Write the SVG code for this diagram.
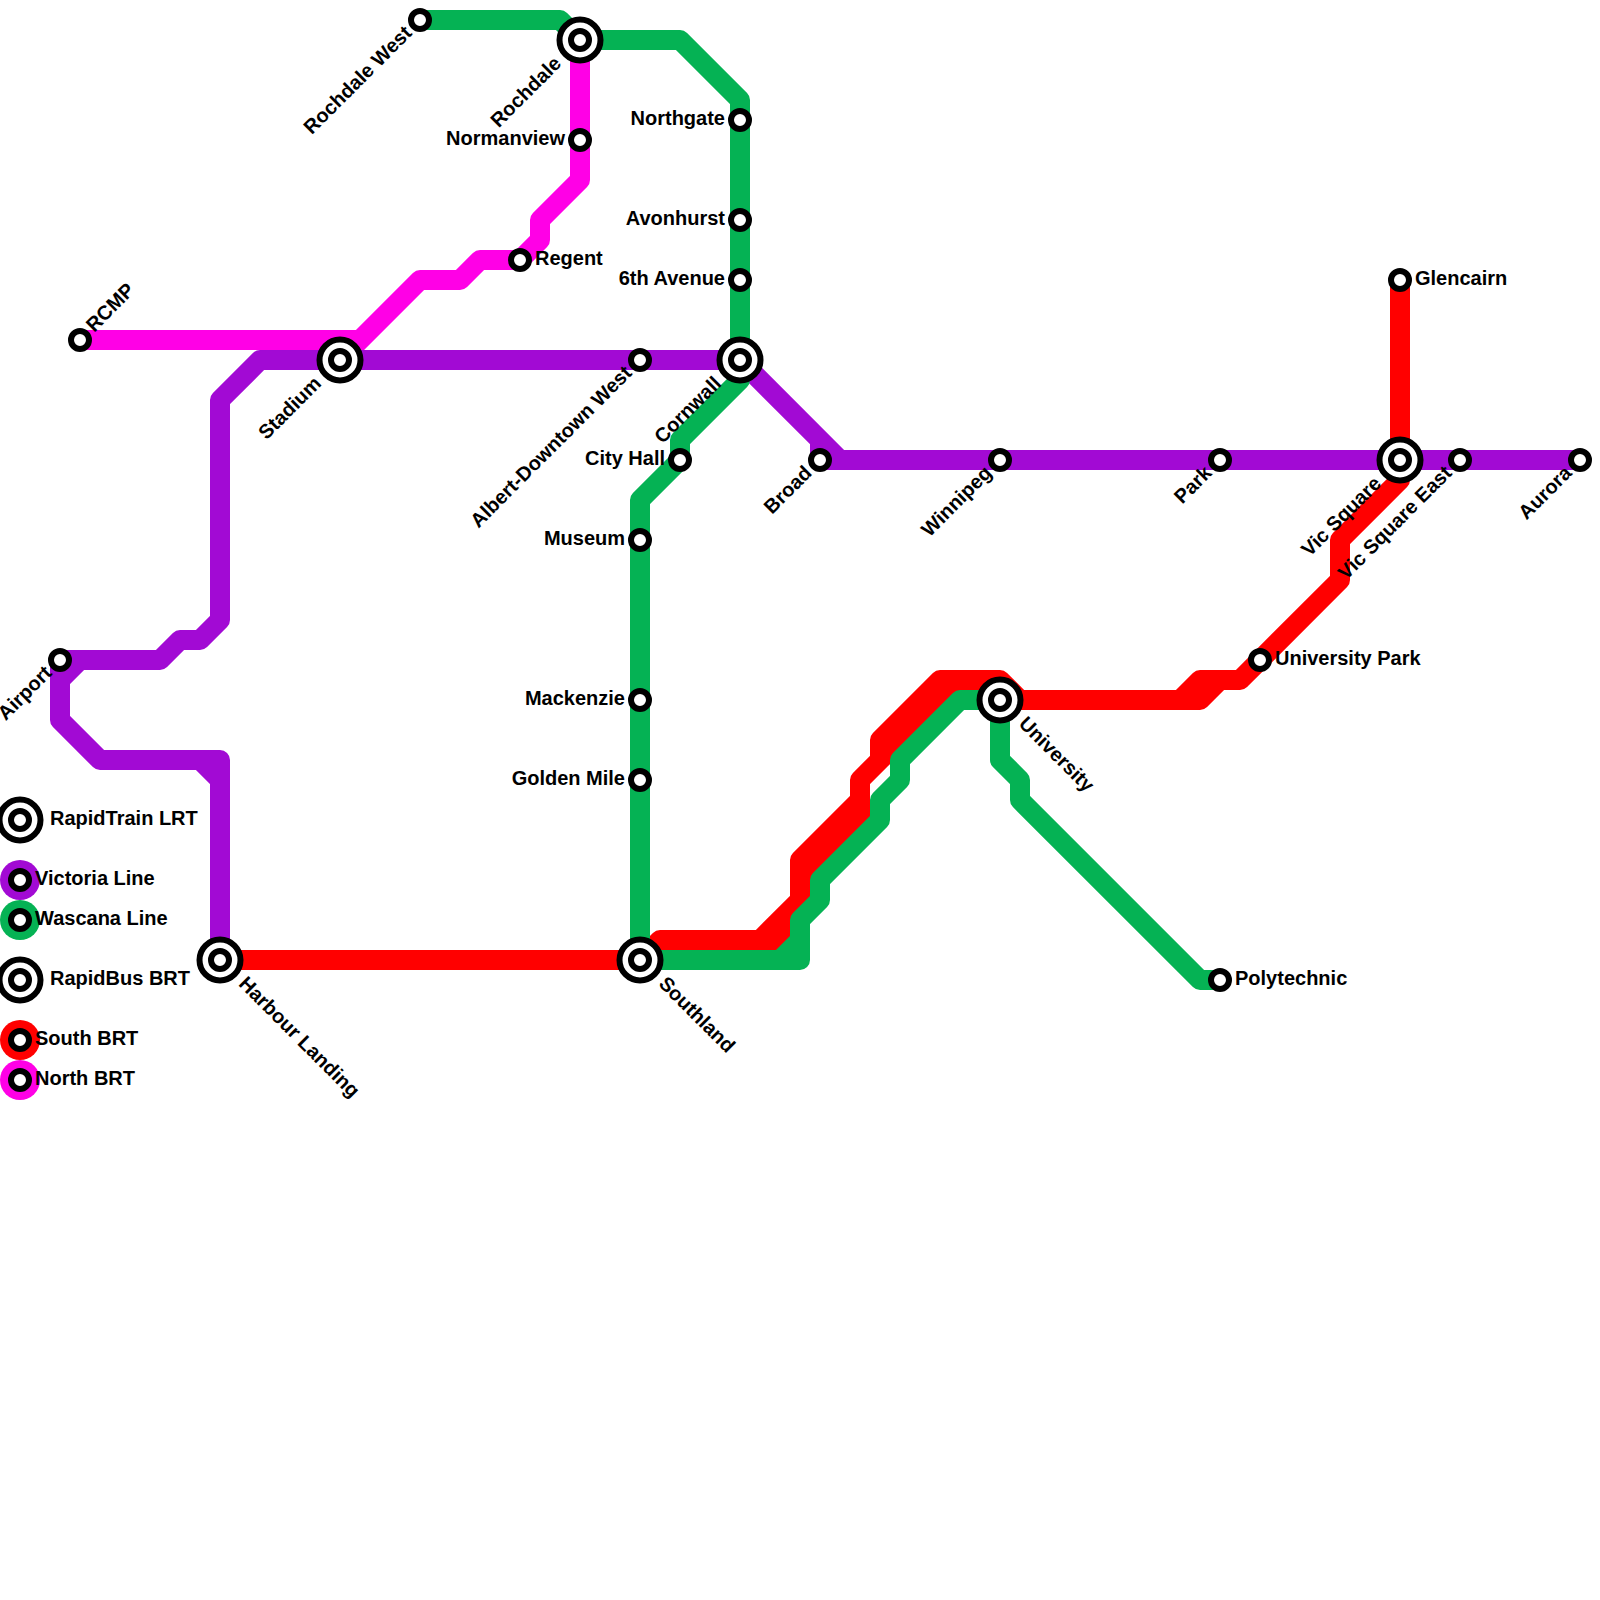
<svg xmlns="http://www.w3.org/2000/svg" width="1600" height="1600" viewBox="0 0 1600 1600">
<style>
.l{fill:none;stroke-width:20;stroke-linejoin:round}
.p{stroke:#a20ad4}.g{stroke:#05b254}.r{stroke:#ff0000}.m{stroke:#ff00e6}
.o{fill:#fff;stroke:#000;stroke-width:6}
.t{font:bold 20px "Liberation Sans",Arial,sans-serif;fill:#000}
.e{text-anchor:end}
</style>
<rect width="1600" height="1600" fill="#fff"/>
<g id="connectors">
<path class="l m" d="M80 340H360M340 360L420 280H460L480 260H520L540 240V220L580 180V40"/>
<path class="l p" d="M640 360H260L220 400V620L200 640H180L160 660H60V720L100 760H220V960M80 660L60 680M200 760L220 780M640 360H740L840 460H1580M820 440V460H840"/>
<path class="l r" d="M220 960H640M640 960L660 940H760L800 900V860L860 800V780L880 760V740L940 680H1000L1020 700H1200L1220 680H1240L1340 580V540L1400 480V460M1400 280V460M1180 700L1200 680H1220M760 940H780L800 920V880L860 820V780L880 760L960 680"/>
<path class="l g" d="M420 20H560L580 40H680L740 100V380L680 440V460L640 500V960H800V920L820 900V880L880 820V800L900 780V760L960 700H1000V760L1020 780V800L1200 980H1220M780 960L800 940"/>
</g>
<g id="st-rochdale-west"><circle class="o" cx="420" cy="20" r="9"/><text class="t e" transform="translate(420 20) rotate(-45)" x="-15" y="5">Rochdale West</text></g>
<g id="st-rochdale"><circle class="o" cx="580" cy="40" r="20.5"/><circle class="o" cx="580" cy="40" r="9"/><text class="t e" transform="translate(580 40) rotate(-45)" x="-30" y="5">Rochdale</text></g>
<g id="st-northgate"><circle class="o" cx="740" cy="120" r="9"/><text class="t e" x="725" y="125">Northgate</text></g>
<g id="st-avonhurst"><circle class="o" cx="740" cy="220" r="9"/><text class="t e" x="725" y="225">Avonhurst</text></g>
<g id="st-6th-avenue"><circle class="o" cx="740" cy="280" r="9"/><text class="t e" x="725" y="285">6th Avenue</text></g>
<g id="st-normanview"><circle class="o" cx="580" cy="140" r="9"/><text class="t e" x="565" y="145">Normanview</text></g>
<g id="st-regent"><circle class="o" cx="520" cy="260" r="9"/><text class="t" x="535" y="265">Regent</text></g>
<g id="st-rcmp"><circle class="o" cx="80" cy="340" r="9"/><text class="t" transform="translate(80 340) rotate(-45)" x="15" y="5">RCMP</text></g>
<g id="st-stadium"><circle class="o" cx="340" cy="360" r="20.5"/><circle class="o" cx="340" cy="360" r="9"/><text class="t e" transform="translate(340 360) rotate(-45)" x="-30" y="5">Stadium</text></g>
<g id="st-albert"><circle class="o" cx="640" cy="360" r="9"/><text class="t e" transform="translate(640 360) rotate(-45)" x="-15" y="5">Albert-Downtown West</text></g>
<g id="st-cornwall"><circle class="o" cx="740" cy="360" r="20.5"/><circle class="o" cx="740" cy="360" r="9"/><text class="t e" transform="translate(740 360) rotate(-45)" x="-30" y="5">Cornwall</text></g>
<g id="st-city-hall"><circle class="o" cx="680" cy="460" r="9"/><text class="t e" x="665" y="465">City Hall</text></g>
<g id="st-museum"><circle class="o" cx="640" cy="540" r="9"/><text class="t e" x="625" y="545">Museum</text></g>
<g id="st-mackenzie"><circle class="o" cx="640" cy="700" r="9"/><text class="t e" x="625" y="705">Mackenzie</text></g>
<g id="st-golden-mile"><circle class="o" cx="640" cy="780" r="9"/><text class="t e" x="625" y="785">Golden Mile</text></g>
<g id="st-southland"><circle class="o" cx="640" cy="960" r="20.5"/><circle class="o" cx="640" cy="960" r="9"/><text class="t" transform="translate(640 960) rotate(45)" x="30" y="5">Southland</text></g>
<g id="st-harbour"><circle class="o" cx="220" cy="960" r="20.5"/><circle class="o" cx="220" cy="960" r="9"/><text class="t" transform="translate(220 960) rotate(45)" x="30" y="5">Harbour Landing</text></g>
<g id="st-airport"><circle class="o" cx="60" cy="660" r="9"/><text class="t e" transform="translate(60 660) rotate(-45)" x="-15" y="5">Airport</text></g>
<g id="st-broad"><circle class="o" cx="820" cy="460" r="9"/><text class="t e" transform="translate(820 460) rotate(-45)" x="-15" y="5">Broad</text></g>
<g id="st-winnipeg"><circle class="o" cx="1000" cy="460" r="9"/><text class="t e" transform="translate(1000 460) rotate(-45)" x="-15" y="5">Winnipeg</text></g>
<g id="st-park"><circle class="o" cx="1220" cy="460" r="9"/><text class="t e" transform="translate(1220 460) rotate(-45)" x="-15" y="5">Park</text></g>
<g id="st-vic-square"><circle class="o" cx="1400" cy="460" r="20.5"/><circle class="o" cx="1400" cy="460" r="9"/><text class="t e" transform="translate(1400 460) rotate(-45)" x="-30" y="5">Vic Square</text></g>
<g id="st-vic-square-east"><circle class="o" cx="1460" cy="460" r="9"/><text class="t e" transform="translate(1460 460) rotate(-45)" x="-15" y="5">Vic Square East</text></g>
<g id="st-aurora"><circle class="o" cx="1580" cy="460" r="9"/><text class="t e" transform="translate(1580 460) rotate(-45)" x="-15" y="5">Aurora</text></g>
<g id="st-glencairn"><circle class="o" cx="1400" cy="280" r="9"/><text class="t" x="1415" y="285">Glencairn</text></g>
<g id="st-university-park"><circle class="o" cx="1260" cy="660" r="9"/><text class="t" x="1275" y="665">University Park</text></g>
<g id="st-university"><circle class="o" cx="1000" cy="700" r="20.5"/><circle class="o" cx="1000" cy="700" r="9"/><text class="t" transform="translate(1000 700) rotate(45)" x="30" y="5">University</text></g>
<g id="st-polytechnic"><circle class="o" cx="1220" cy="980" r="9"/><text class="t" x="1235" y="985">Polytechnic</text></g>
<g id="legend-lrt"><circle class="o" cx="20" cy="820" r="20.5"/><circle class="o" cx="20" cy="820" r="9"/><text class="t" x="50" y="825">RapidTrain LRT</text></g>
<g id="legend-victoria"><circle cx="20" cy="880" r="20" fill="#a20ad4"/><circle class="o" cx="20" cy="880" r="9"/><text class="t" x="35" y="885">Victoria Line</text></g>
<g id="legend-wascana"><circle cx="20" cy="920" r="20" fill="#05b254"/><circle class="o" cx="20" cy="920" r="9"/><text class="t" x="35" y="925">Wascana Line</text></g>
<g id="legend-brt"><circle class="o" cx="20" cy="980" r="20.5"/><circle class="o" cx="20" cy="980" r="9"/><text class="t" x="50" y="985">RapidBus BRT</text></g>
<g id="legend-south"><circle cx="20" cy="1040" r="20" fill="#ff0000"/><circle class="o" cx="20" cy="1040" r="9"/><text class="t" x="35" y="1045">South BRT</text></g>
<g id="legend-north"><circle cx="20" cy="1080" r="20" fill="#ff00e6"/><circle class="o" cx="20" cy="1080" r="9"/><text class="t" x="35" y="1085">North BRT</text></g>
</svg>
